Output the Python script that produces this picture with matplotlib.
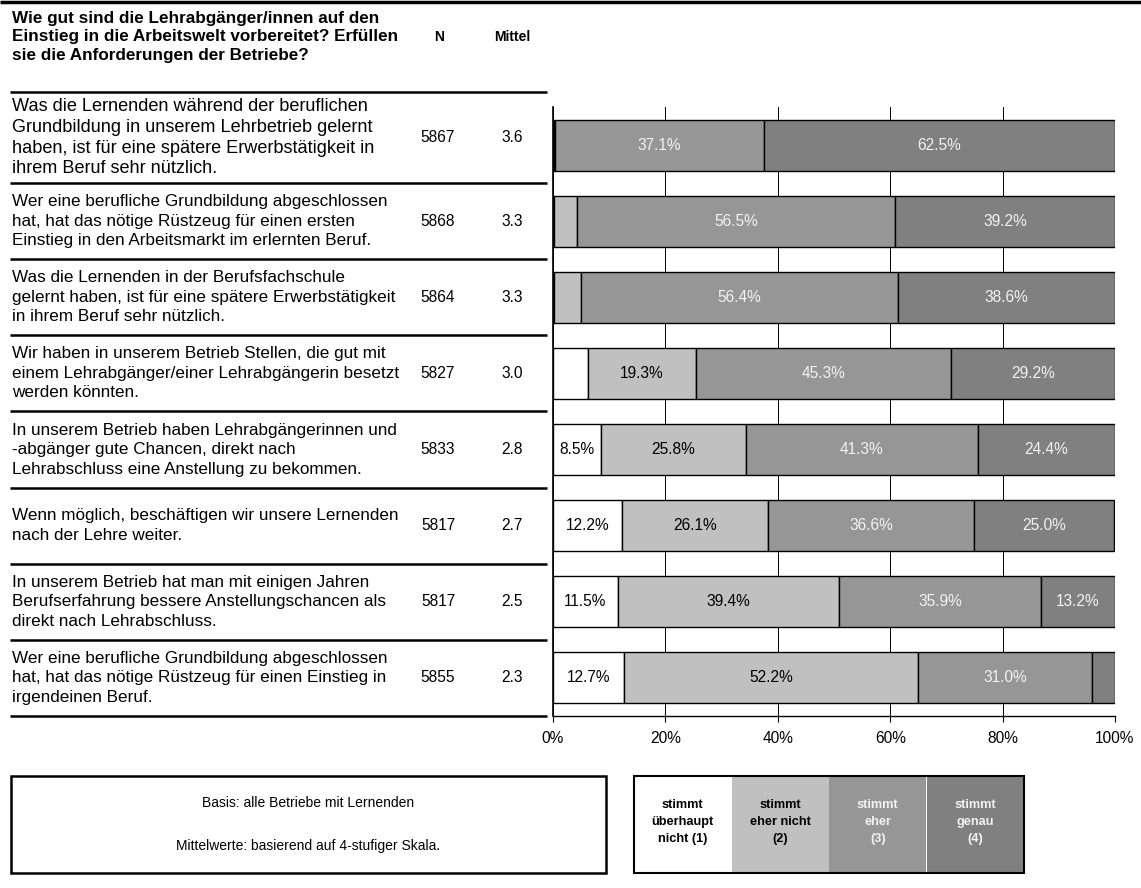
import matplotlib
matplotlib.use("Agg")
from matplotlib import pyplot as plt
from matplotlib.lines import Line2D
from matplotlib.patches import Rectangle
import numpy as np

plt.rcParams['font.family'] = ['Liberation Sans', 'DejaVu Sans']

W, H = 1141, 888

title = ("Wie gut sind die Lehrabgänger/innen auf den\n"
         "Einstieg in die Arbeitswelt vorbereitet? Erfüllen\n"
         "sie die Anforderungen der Betriebe?")

questions = [
    "Was die Lernenden während der beruflichen\nGrundbildung in unserem Lehrbetrieb gelernt\nhaben, ist für eine spätere Erwerbstätigkeit in\nihrem Beruf sehr nützlich.",
    "Wer eine berufliche Grundbildung abgeschlossen\nhat, hat das nötige Rüstzeug für einen ersten\nEinstieg in den Arbeitsmarkt im erlernten Beruf.",
    "Was die Lernenden in der Berufsfachschule\ngelernt haben, ist für eine spätere Erwerbstätigkeit\nin ihrem Beruf sehr nützlich.",
    "Wir haben in unserem Betrieb Stellen, die gut mit\neinem Lehrabgänger/einer Lehrabgängerin besetzt\nwerden könnten.",
    "In unserem Betrieb haben Lehrabgängerinnen und\n-abgänger gute Chancen, direkt nach\nLehrabschluss eine Anstellung zu bekommen.",
    "Wenn möglich, beschäftigen wir unsere Lernenden\nnach der Lehre weiter.",
    "In unserem Betrieb hat man mit einigen Jahren\nBerufserfahrung bessere Anstellungschancen als\ndirekt nach Lehrabschluss.",
    "Wer eine berufliche Grundbildung abgeschlossen\nhat, hat das nötige Rüstzeug für einen Einstieg in\nirgendeinen Beruf.",
]
n_values = [5867, 5868, 5864, 5827, 5833, 5817, 5817, 5855]
means = [3.6, 3.3, 3.3, 3.0, 2.8, 2.7, 2.5, 2.3]

# Anteile je Antwortstufe (1..4) in %
p1 = [0.1, 0.2, 0.2, 6.2, 8.5, 12.2, 11.5, 12.7]
p2 = [0.3, 4.1, 4.8, 19.3, 25.8, 26.1, 39.4, 52.2]
p3 = [37.1, 56.5, 56.4, 45.3, 41.3, 36.6, 35.9, 31.0]
p4 = [62.5, 39.2, 38.6, 29.2, 24.4, 25.0, 13.2, 4.1]

legend_labels = ["stimmt\nüberhaupt\nnicht (1)", "stimmt\neher nicht\n(2)", "stimmt\neher\n(3)", "stimmt\ngenau\n(4)"]
colors = ["#FFFFFF", "#C0C0C0", "#969696", "#808080"]
text_colors = ["black", "black", "#F2F2F2", "#F2F2F2"]
ticks = [0, 20, 40, 60, 80, 100]


def fx(x):
    return x / W


def fy(y):
    return 1 - y / H


def hline(fig, y, x0, x1, lw):
    fig.add_artist(Line2D([fx(x0), fx(x1)], [fy(y), fy(y)], color="black", lw=lw, solid_capstyle="butt"))


fig = plt.figure(figsize=(W / 100, H / 100), dpi=100)

ax_left, ax_right, ax_top, ax_bottom = 553, 1115, 107, 716
ax = fig.add_axes([fx(ax_left), fy(ax_bottom), (ax_right - ax_left) / W, (ax_bottom - ax_top) / H])

series = [p1, p2, p3, p4]
y = np.arange(len(questions)) + 0.5
left = np.zeros(len(questions))
for k, vals in enumerate(series):
    vals = np.array(vals)
    ax.barh(y, vals, left=left, height=0.67, color=colors[k], edgecolor="black", linewidth=1.0, zorder=3)
    for i, v in enumerate(vals):
        if v >= 7:
            ax.text(left[i] + v / 2, y[i], f"{v:.1f}%", ha="center", va="center",
                    color=text_colors[k], fontsize=11.2, zorder=4)
    left += vals

ax.set_xlim(0, 100)
ax.set_ylim(len(questions), 0)
ax.set_xticks(ticks)
ax.set_xticklabels([f"{t}%" for t in ticks], fontsize=11.2)
ax.set_yticks([])
ax.xaxis.grid(True, color="black", lw=0.7, zorder=0)
ax.tick_params(axis="x", length=4, width=0.8, pad=7)
for s in ["top", "right"]:
    ax.spines[s].set_visible(False)
ax.spines["left"].set_linewidth(1.2)
ax.spines["bottom"].set_linewidth(1.0)

# Tabelle links
pitch = (ax_bottom - ax_top) / len(questions)
hline(fig, 2, 0, W, 2.5)
fig.text(fx(12), fy(37), title, ha="left", va="center", fontsize=12.3, fontweight="bold", linespacing=1.33)
fig.text(fx(439), fy(37), "N", ha="center", va="center", fontsize=10, fontweight="bold")
fig.text(fx(512), fy(37), "Mittel", ha="center", va="center", fontsize=10, fontweight="bold")
hline(fig, 92, 10, 547, 1.8)
for i, q in enumerate(questions):
    if i == 0:
        yc = (92 + ax_top + pitch) / 2
        fs, ls = 13.1, 1.3
    else:
        yc = ax_top + pitch * (i + 0.5)
        fs, ls = 12.3, 1.37
    fig.text(fx(12), fy(yc), q, ha="left", va="center", fontsize=fs, linespacing=ls)
    fig.text(fx(438), fy(yc), str(n_values[i]), ha="center", va="center", fontsize=11.2)
    fig.text(fx(512), fy(yc), f"{means[i]:.1f}", ha="center", va="center", fontsize=11.2)
    hline(fig, ax_top + pitch * (i + 1), 10, 547, 1.8)

# Fussnote
fig.add_artist(Rectangle((fx(11), fy(873)), fx(606) - fx(11), fy(776) - fy(873),
                         fill=False, edgecolor="black", lw=1.8))
fig.text(fx(308), fy(803), "Basis: alle Betriebe mit Lernenden", ha="center", va="center", fontsize=10)
fig.text(fx(308), fy(846), "Mittelwerte: basierend auf 4-stufiger Skala.", ha="center", va="center", fontsize=10)

# Legende
lx0, lx1 = 634, 1024
cw = (lx1 - lx0) / len(legend_labels)
for k, lab in enumerate(legend_labels):
    x0 = lx0 + k * cw
    fig.add_artist(Rectangle((fx(x0), fy(873)), cw / W, fy(776) - fy(873),
                             facecolor=colors[k], edgecolor="none"))
    fig.text(fx(x0 + cw / 2), fy(822), lab, ha="center", va="center", fontsize=9.2,
             fontweight="bold", color=text_colors[k], linespacing=1.55)
fig.add_artist(Rectangle((fx(lx0), fy(873)), fx(lx1) - fx(lx0), fy(776) - fy(873),
                         fill=False, edgecolor="black", lw=1.5))

fig.savefig("out.png", dpi=100)
